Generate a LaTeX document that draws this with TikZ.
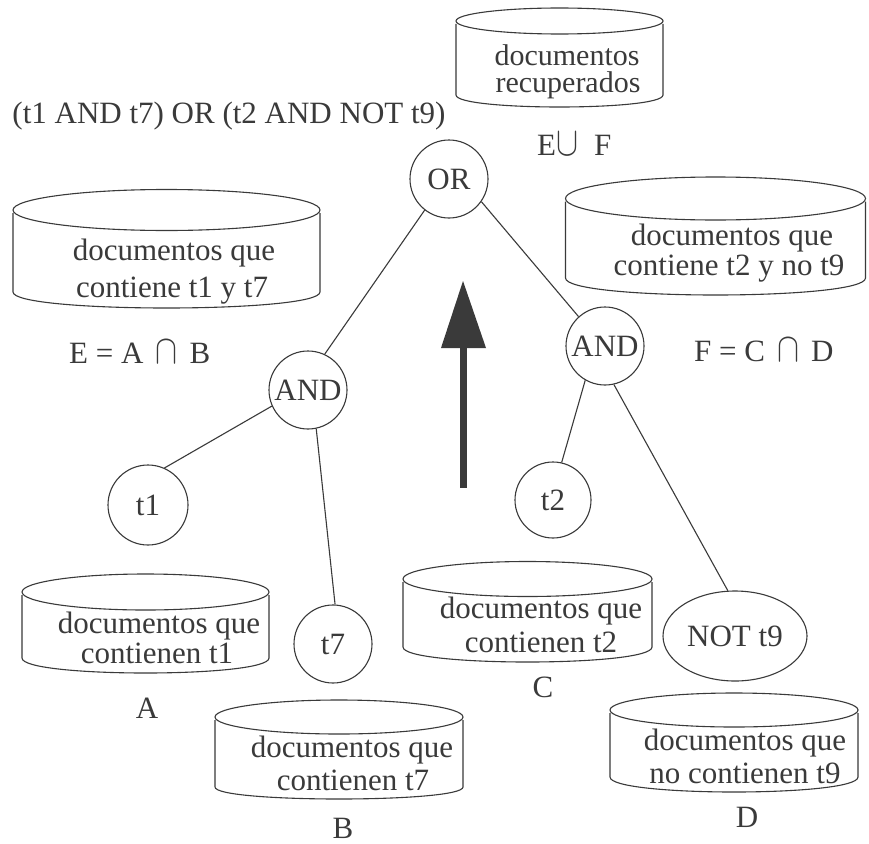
\documentclass[tikz,border=0pt]{standalone}
\usepackage{graphicx}
\usepackage{fontspec}
\setmainfont{Liberation Serif}
\usetikzlibrary{shapes.geometric}
\definecolor{ink}{HTML}{3A3A3A}
\newcommand\mycup{\scalebox{3.3}[4.1]{\fontsize{10}{12}\selectfont$\cup$}}
\newcommand\mycap{\scalebox{3.3}[4.1]{\fontsize{10}{12}\selectfont$\cap$}}
\tikzset{
  base/.style={font=\fontsize{31}{36}\selectfont, text=ink, inner sep=0pt},
  txt/.style={base, anchor=base},
  term/.style={base, circle, draw=ink, line width=1.1pt, minimum size=78pt},
  conn/.style={draw=ink, line width=1.1pt},
  cylline/.style={draw=ink, line width=1.1pt},
}
% cx, cy, rx, ry, ybottom, dip
\newcommand\drawcyl[6]{%
  \draw[cylline] (#1,#2) ellipse [x radius=#3pt, y radius=#4pt];
  \draw[cylline] (#1-#3,#2+3) -- (#1-#3,#5) .. controls (#1-#3,#5+4/3*#6) and (#1+#3,#5+4/3*#6) .. (#1+#3,#5) -- (#1+#3,#2+3);
}
\begin{document}
\begin{tikzpicture}[x=1pt,y=-1pt]
\path[use as bounding box, fill=white] (0,0) rectangle (869,843);

% cylinders
\drawcyl{559.5}{21}{103.5}{13}{95}{12}
\drawcyl{166.5}{210}{153.5}{20.5}{292}{16}
\drawcyl{715.5}{198.5}{150}{21.5}{278}{17}
\drawcyl{145.5}{592}{123.5}{18}{658}{15}
\drawcyl{339}{717}{124}{17}{787}{12}
\drawcyl{527.5}{579}{124.5}{17.5}{647}{15}
\drawcyl{734}{710}{124}{17}{777}{15}

% big arrow
\fill[ink] (459.5,488) rectangle (467,347);
\fill[ink] (463,281) -- (486,348) -- (441,348) -- cycle;

% tree nodes
\node[term] (or) at (449,179) {OR};
\node[term] (andr) at (605,346) {AND};
\node[term] (andl) at (308,390) {AND};
\node[term, minimum size=80pt] (t1) at (148,505) {t1};
\node[term] (t7) at (333,644) {t7};
\node[term, minimum size=76pt] (t2) at (553,500) {t2};
\node[base, ellipse, draw=ink, line width=1.1pt, minimum width=144pt, minimum height=90pt] (not9) at (735,636) {NOT t9};

% connectors
\draw[conn] (or.232) -- (andl.65);
\draw[conn] (or.325) -- (andr.132);
\draw[conn] (andl.204) -- (t1.66);
\draw[conn] (andl.282) -- (t7.87);
\draw[conn] (andr.240) -- (t2.77);
\draw[conn] (andr.283) -- (not9.99);

% texts
\node[txt] (q) at (229,123) {(t1 AND t7) OR (t2 AND NOT t9)};
\node[txt, font=\fontsize{30}{34}\selectfont] (r1) at (567,65) {documentos};
\node[txt, font=\fontsize{30}{34}\selectfont] (r2) at (568,92) {recuperados};
\node[txt, anchor=base west] (euf) at (537,155) {E\mycup\hspace{16pt}F};
\node[txt] (e1) at (174,260) {documentos que};
\node[txt] (e2) at (172,297) {contiene t1 y t7};
\node[txt] (f1) at (732,245) {documentos que};
\node[txt] (f2) at (729,275) {contiene t2 y no t9};
\node[txt, anchor=base west] (eq) at (69,363) {E = A\hspace{12pt}\mycap\hspace{12pt}B};
\node[txt, anchor=base west] (fq) at (694,361) {F = C\hspace{12pt}\mycap\hspace{12pt}D};
\node[txt] (a1) at (159,633) {documentos que};
\node[txt] (a2) at (157,663) {contienen t1};
\node[txt] (la) at (147,718) {A};
\node[txt] (b1) at (352,757) {documentos que};
\node[txt] (b2) at (353,790) {contienen t7};
\node[txt] (lb) at (343,838) {B};
\node[txt] (c1) at (541,618) {documentos que};
\node[txt] (c2) at (541,652) {contienen t2};
\node[txt] (lc) at (543,697) {C};
\node[txt] (d1) at (745,750) {documentos que};
\node[txt] (d2) at (745,783) {no contienen t9};
\node[txt] (ld) at (747,827) {D};
\end{tikzpicture}
\end{document}
